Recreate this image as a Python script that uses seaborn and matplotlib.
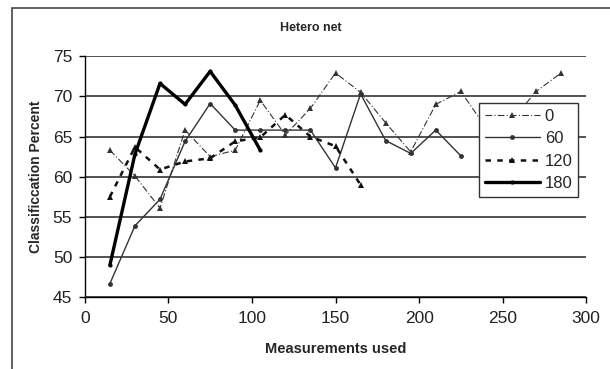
import pandas as pd
import seaborn as sns
import matplotlib.pyplot as plt
from matplotlib.patches import Rectangle

# values
x0 = [15, 30, 45, 60, 75, 90, 105, 120, 135, 150, 165, 180, 195, 210, 225, 240, 255, 270, 285]
y0 = [63.3, 60.1, 56.1, 65.8, 62.5, 63.3, 69.5, 65.2, 68.5, 72.9, 70.5, 66.7, 63.1, 69.0, 70.6, 66.1, 66.9, 70.6, 72.9]

x60 = [15, 30, 45, 60, 75, 90, 105, 120, 135, 150, 165, 180, 195, 210, 225]
y60 = [46.7, 53.9, 57.2, 64.4, 69.1, 65.8, 65.8, 65.8, 65.8, 61.1, 70.3, 64.5, 62.9, 65.8, 62.6]

x120 = [15, 30, 45, 60, 75, 90, 105, 120, 135, 150, 165]
y120 = [57.5, 63.7, 60.9, 61.9, 62.3, 64.4, 64.9, 67.7, 65.0, 63.8, 59.0]

x180 = [15, 30, 45, 60, 75, 90, 105]
y180 = [49.0, 62.8, 71.6, 69.0, 73.1, 68.9, 63.3]

series_names = ["0", "60", "120", "180"]

sns.set_theme(style="white")
plt.rcParams['font.family'] = ['Liberation Sans', 'DejaVu Sans']

fig = plt.figure(figsize=(6.1, 3.69), dpi=100)
ax = fig.add_axes([0.139, 0.194, 0.822, 0.654])

# gridlines first so lines sit on top
ax.set_axisbelow(True)
ax.yaxis.grid(True, color="#444444", linewidth=1.3)

sns.lineplot(x=x0, y=y0, ax=ax, color="#333333", linewidth=0.8, linestyle=(0, (6, 2, 1, 2)),
             marker="^", markersize=4.5, markeredgewidth=0, label=series_names[0])
sns.lineplot(x=x60, y=y60, ax=ax, color="#333333", linewidth=1.0, linestyle="-",
             marker="o", markersize=3.5, markeredgewidth=0, label=series_names[1])
sns.lineplot(x=x120, y=y120, ax=ax, color="#111111", linewidth=1.8, linestyle=(0, (2.2, 2.5)),
             marker="^", markersize=4.5, markeredgewidth=0, label=series_names[2])
sns.lineplot(x=x180, y=y180, ax=ax, color="#000000", linewidth=2.4, linestyle="-",
             marker="o", markersize=3, markeredgewidth=0, label=series_names[3])

ax.set_xlim(0, 300)
ax.set_ylim(45, 75)
ax.set_xticks(range(0, 301, 50))
ax.set_yticks(range(45, 76, 5))
ax.tick_params(axis="both", labelsize=12.5, length=4, width=1, color="black",
               labelcolor="#222222", direction="out", bottom=True, left=True)
ax.tick_params(axis="x", pad=6)
ax.tick_params(axis="y", pad=5)

for side in ["top", "right"]:
    ax.spines[side].set_visible(False)
for side in ["left", "bottom"]:
    ax.spines[side].set_color("black")
    ax.spines[side].set_linewidth(1.0)

ax.set_xlabel("Measurements used", fontsize=10.5, fontweight="bold", labelpad=11)
ax.set_ylabel("Classificcation Percent", fontsize=10, fontweight="bold", labelpad=7)
fig.text(0.51, 0.924, "Hetero net", ha="center", va="center", fontsize=9, fontweight="bold")

leg = ax.legend(loc="upper left", bbox_to_anchor=(0.786, 0.806), fontsize=12,
                frameon=True, fancybox=False, edgecolor="#333333", framealpha=1,
                handlelength=3.3, handletextpad=0.3, labelspacing=0.45,
                borderpad=0.35, borderaxespad=0)
leg.get_frame().set_linewidth(1.0)

# outer chart-area border, cut off on the right and bottom like the reference
fig.patches.append(Rectangle((0.020, -0.2), 1.2, 1.178, transform=fig.transFigure,
                             fill=False, edgecolor="#444444", linewidth=1.2))

fig.savefig("out.png", dpi=100)
